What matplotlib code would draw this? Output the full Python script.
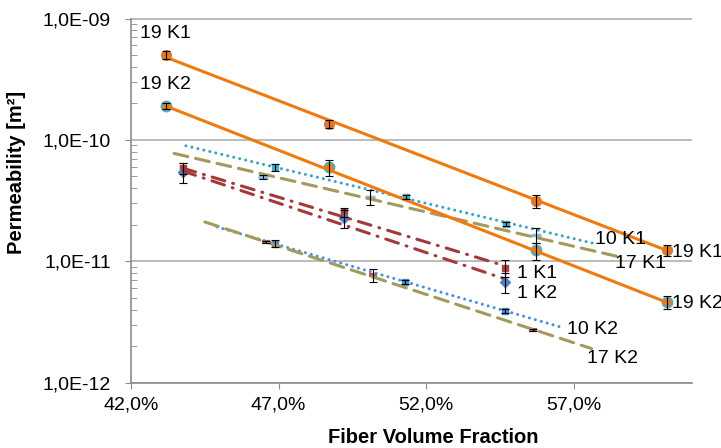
import numpy as np
import matplotlib
matplotlib.use("Agg")
import matplotlib.pyplot as plt
from matplotlib.ticker import FixedLocator, FuncFormatter, LogLocator, NullFormatter

plt.rcParams['font.family'] = ['Liberation Sans', 'DejaVu Sans']

# measured points (fiber volume fraction in %, permeability in m^2, relative error)
x_19k1 = [43.18, 48.70, 55.71, 60.14]
y_19k1 = [5.04e-10, 1.36e-10, 3.13e-11, 1.23e-11]
e_19k1 = [0.08, 0.08, 0.12, 0.10]

x_19k2 = [43.18, 48.70, 55.71, 60.14]
y_19k2 = [1.91e-10, 5.98e-11, 1.23e-11, 4.58e-12]
e_19k2 = [0.06, 0.15, 0.16, 0.12]

x_10k1 = [46.87, 51.33, 54.71]
y_10k1 = [5.93e-11, 3.40e-11, 2.02e-11]
e_10k1 = [0.06, 0.04, 0.04]

x_17k1 = [46.47, 50.10, 55.71]
y_17k1 = [4.96e-11, 3.40e-11, 1.64e-11]
e_17k1 = [0.04, 0.14, 0.14]

x_1k1 = [43.76, 49.20, 54.68]
y_1k1 = [5.85e-11, 2.54e-11, 8.77e-12]
e_1k1 = [0.11, 0.08, 0.16]

x_1k2 = [43.76, 49.20, 54.68]
y_1k2 = [5.42e-11, 2.26e-11, 6.73e-12]
e_1k2 = [0.18, 0.16, 0.18]

x_10k2 = [46.87, 51.29, 54.68]
y_10k2 = [1.40e-11, 6.76e-12, 3.88e-12]
e_10k2 = [0.06, 0.04, 0.04]

x_17k2 = [46.58, 50.19, 55.60]
y_17k2 = [1.44e-11, 7.68e-12, 2.74e-12]
e_17k2 = [0.02, 0.12, 0.02]

# exponential trendlines (start / end as drawn)
tl_19k1 = ([43.18, 60.14], [4.80e-10, 1.23e-11])
tl_19k2 = ([43.18, 60.14], [1.90e-10, 4.60e-12])
tl_10k1 = ([43.86, 57.64], [8.94e-11, 1.41e-11])
tl_17k1 = ([43.46, 58.59], [7.74e-11, 1.08e-11])
tl_1k1 = ([43.76, 54.59], [5.85e-11, 9.28e-12])
tl_1k2 = ([43.76, 54.59], [5.53e-11, 7.26e-12])
tl_10k2 = ([44.91, 56.69], [1.92e-11, 2.81e-12])
tl_17k2 = ([44.50, 57.60], [2.11e-11, 1.91e-12])

W, H = 721, 448
fig = plt.figure(figsize=(W / 100, H / 100), dpi=100)
L, R, T, B = 131, 692, 18.5, 382.7
ax = fig.add_axes([L / W, 1 - B / H, (R - L) / W, (B - T) / H])

orange = '#F07A10'
teal = '#3AA3BF'
olive = '#A39A5E'
dred = '#A3393B'
blue = '#4A8FDF'

def errs(xs, ys, es):
    ys = np.array(ys)
    ax.errorbar(xs, ys, yerr=ys * np.array(es), fmt='none', ecolor='black',
                elinewidth=0.8, capsize=3, capthick=0.8, zorder=4)

def trend(tl, color, ls, lw=2.2):
    x = np.linspace(tl[0][0], tl[0][1], 50)
    k = np.log(tl[1][1] / tl[1][0]) / (tl[0][1] - tl[0][0])
    y = tl[1][0] * np.exp(k * (x - tl[0][0]))
    ax.plot(x, y, color=color, lw=lw, ls=ls, dash_capstyle='round',
            solid_capstyle='butt', zorder=3)

dot = (0, (0.01, 2.0))
dash = (0, (4.6, 2.6))
dashdot = (0, (4.3, 2.7, 0.3, 2.7))

# markers
ax.plot(x_10k1, y_10k1, 's', color='#4BACC6', ms=5, zorder=2)
ax.plot(x_17k1, y_17k1, '_', color='#8DB4E2', ms=7, mew=2.5, zorder=2)
ax.plot(x_1k1, y_1k1, 's', color='#B0403F', ms=5, zorder=2)
ax.plot(x_1k2, y_1k2, 'D', color='#4F7FBD', ms=5, zorder=2)
ax.plot(x_10k2, y_10k2, 's', color='#4A86D0', ms=4, zorder=2)
ax.plot(x_17k2, y_17k2, '_', color='#C0504D', ms=6, mew=3, zorder=2)
ax.plot(x_19k1, y_19k1, 'o', color='#DB7833', ms=7, zorder=2)
ax.plot(x_19k2, y_19k2, 'o', mfc=orange, mec='#4BACC6', mew=1.5, ms=7, zorder=2)

for xs, ys, es in [(x_19k1, y_19k1, e_19k1), (x_19k2, y_19k2, e_19k2),
                   (x_10k1, y_10k1, e_10k1), (x_17k1, y_17k1, e_17k1),
                   (x_1k1, y_1k1, e_1k1), (x_1k2, y_1k2, e_1k2),
                   (x_10k2, y_10k2, e_10k2), (x_17k2, y_17k2, e_17k2)]:
    errs(xs, ys, es)

trend(tl_10k1, teal, dot)
trend(tl_17k1, olive, dash)
trend(tl_1k1, dred, dashdot)
trend(tl_1k2, dred, dashdot)
trend(tl_10k2, blue, dot)
trend(tl_17k2, olive, dash)
trend(tl_19k1, orange, '-')
trend(tl_19k2, orange, '-')

ax.set_yscale('log')
ax.set_xlim(42, 61)
ax.set_ylim(1e-12, 1e-9)

ax.xaxis.set_major_locator(FixedLocator([42, 47, 52, 57]))
ax.xaxis.set_major_formatter(FuncFormatter(lambda v, p: f"{v:.1f}%".replace('.', ',')))
ax.yaxis.set_major_locator(FixedLocator([1e-12, 1e-11, 1e-10, 1e-9]))
ax.yaxis.set_major_formatter(FuncFormatter(lambda v, p: f"{v:.1E}".replace('.', ',')))
ax.yaxis.set_minor_locator(LogLocator(base=10, subs=np.arange(2, 10)))
ax.yaxis.set_minor_formatter(NullFormatter())

gray = '#8C8C8C'
for s in ['top', 'right']:
    ax.spines[s].set_visible(False)
for s in ['left', 'bottom']:
    ax.spines[s].set_color(gray)
    ax.spines[s].set_linewidth(1.2)
ax.grid(axis='y', which='major', color='#A8A8A8', lw=1.1, zorder=0)
ax.tick_params(axis='y', which='major', direction='out', length=4.5, color=gray,
               labelsize=14, pad=10)
ax.tick_params(axis='y', which='minor', direction='in', length=4.5, color=gray)
ax.tick_params(axis='x', which='major', direction='out', length=4, color=gray,
               labelsize=14, pad=6)
ax.tick_params(axis='x', which='minor', bottom=False)

fig.text(433 / W, 1 - 437 / H, 'Fiber Volume Fraction', ha='center', va='center',
         fontsize=14.5, fontweight='bold')
fig.text(17 / W, 1 - 172 / H, 'Permeability [m²]', ha='center', va='center',
         rotation=90, fontsize=14.5, fontweight='bold')

labels = [('19 K1', 140, 34), ('19 K2', 140, 84.5), ('10 K1', 595, 239),
          ('17 K1', 615, 263), ('19 K1', 672, 252), ('19 K2', 672, 303),
          ('1 K1', 517, 273), ('1 K2', 517, 293), ('10 K2', 567, 329),
          ('17 K2', 587, 358)]
for txt, px, py in labels:
    ax.text((px - L) / (R - L), 1 - (py - T) / (B - T), txt, transform=ax.transAxes,
            ha='left', va='center', fontsize=14, clip_on=False, zorder=6)

fig.savefig('out.png', dpi=100)
